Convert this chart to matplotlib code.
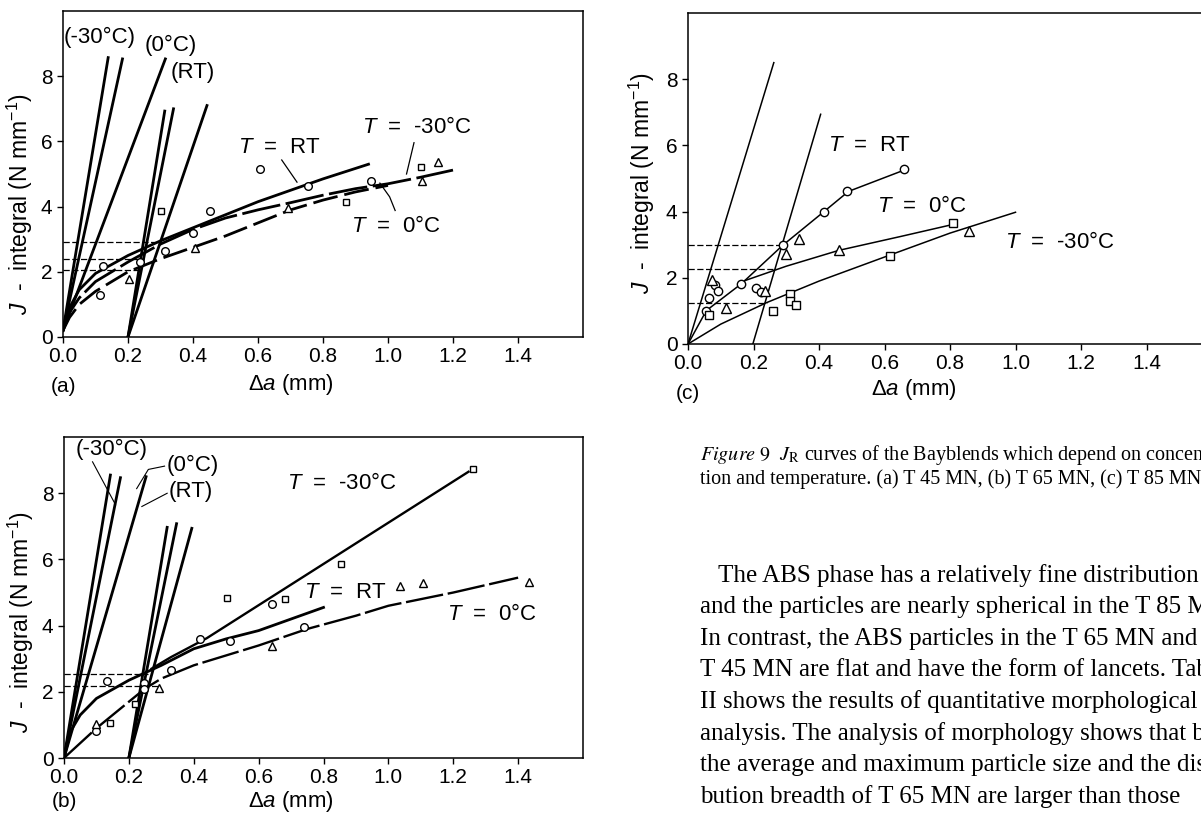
import numpy as np
import matplotlib
matplotlib.use("Agg")
import matplotlib.pyplot as plt

plt.rcParams['font.family'] = ['Liberation Sans', 'DejaVu Sans']
plt.rcParams['mathtext.fontset'] = 'custom'
plt.rcParams['mathtext.rm'] = 'Liberation Sans'
plt.rcParams['mathtext.it'] = 'Liberation Sans:italic'

# ---------------- panel (a) T 45 MN ----------------
a_blunt_tops_x = [0.139, 0.183, 0.315]
a_blunt_tops_y = [8.57, 8.53, 8.53]
a_offset_tops_x = [0.313, 0.340, 0.443]
a_offset_tops_y = [6.93, 7.00, 7.10]

a_rt_x = [0.0, 0.02, 0.05, 0.1, 0.2, 0.3, 0.4, 0.5, 0.6, 0.7, 0.8, 0.94]
a_rt_y = [0.2, 0.9, 1.45, 1.95, 2.5, 2.95, 3.35, 3.75, 4.15, 4.5, 4.85, 5.3]
a_m30_x = [0.0, 0.02, 0.05, 0.1, 0.2, 0.3, 0.4, 0.5, 0.6, 0.7, 0.8, 0.9, 1.0, 1.1, 1.2]
a_m30_y = [0.2, 0.75, 1.2, 1.7, 2.3, 2.85, 3.3, 3.65, 3.9, 4.12, 4.35, 4.55, 4.7, 4.9, 5.12]
a_0_x = [0.0, 0.02, 0.05, 0.1, 0.2, 0.3, 0.4, 0.5, 0.6, 0.7, 0.8, 0.9, 1.0]
a_0_y = [0.2, 0.6, 1.0, 1.4, 2.0, 2.4, 2.75, 3.1, 3.5, 3.9, 4.2, 4.45, 4.65]

a_jic_y = [2.92, 2.40, 2.05]
a_jic_x = [0.30, 0.25, 0.23]

a_circ_x = [0.122, 0.115, 0.236, 0.315, 0.40, 0.451, 0.605, 0.754, 0.947]
a_circ_y = [2.18, 1.30, 2.31, 2.65, 3.20, 3.86, 5.15, 4.62, 4.79]
a_sq_x = [0.302, 0.872, 1.10]
a_sq_y = [3.88, 4.13, 5.23]
a_tri_x = [0.203, 0.405, 0.693, 1.105, 1.155]
a_tri_y = [1.77, 2.72, 3.97, 4.80, 5.38]

# ---------------- panel (b) T 65 MN ----------------
b_blunt_tops_x = [0.143, 0.174, 0.253]
b_blunt_tops_y = [8.55, 8.47, 8.50]
b_offset_tops_x = [0.318, 0.347, 0.394]
b_offset_tops_y = [6.97, 7.08, 6.94]

b_rt_x = [0.0, 0.02, 0.05, 0.1, 0.2, 0.3, 0.4, 0.5, 0.6, 0.7, 0.8]
b_rt_y = [0.0, 0.8, 1.3, 1.8, 2.35, 2.8, 3.3, 3.6, 3.85, 4.2, 4.55]
b_0_x = [0.0, 0.1, 0.2, 0.25, 0.3, 0.4, 0.5, 0.6, 0.75, 0.9, 1.0, 1.2, 1.4]
b_0_y = [0.0, 0.9, 1.7, 2.1, 2.4, 2.8, 3.1, 3.4, 3.9, 4.3, 4.6, 5.0, 5.45]
b_m30_x = [0.27, 0.33, 0.44, 1.247]
b_m30_y = [2.7, 3.05, 3.62, 8.65]

b_jic_y = [2.55, 2.18]
b_jic_x = [0.26, 0.29]

b_circ_x = [0.098, 0.133, 0.247, 0.247, 0.329, 0.42, 0.512, 0.641, 0.741]
b_circ_y = [0.83, 2.34, 2.26, 2.10, 2.67, 3.60, 3.53, 4.66, 3.96]
b_sq_x = [0.141, 0.218, 0.504, 0.682, 0.853, 1.261]
b_sq_y = [1.06, 1.62, 4.82, 4.80, 5.86, 8.72]
b_tri_x = [0.098, 0.292, 0.641, 1.035, 1.106, 1.435]
b_tri_y = [1.04, 2.11, 3.37, 5.21, 5.29, 5.32]

# ---------------- panel (c) T 85 MN ----------------
c_blunt_x = [0.0, 0.262]
c_blunt_y = [0.0, 8.50]
c_offset_x = [0.198, 0.405]
c_offset_y = [0.0, 6.94]

c_rt_x = [0.0, 0.056, 0.163, 0.289, 0.414, 0.49, 0.659]
c_rt_y = [0.0, 1.01, 1.82, 2.98, 3.99, 4.61, 5.25]
c_0_x = [0.175, 0.30, 0.461, 0.65, 0.817]
c_0_y = [1.92, 2.35, 2.83, 3.25, 3.63]
c_m30_x = [0.0, 0.1, 0.24, 0.4, 0.62, 0.8, 1.0]
c_m30_y = [0.0, 0.6, 1.25, 1.9, 2.7, 3.35, 3.98]

c_jic_y = [2.98, 2.28, 1.25]
c_jic_x = [0.29, 0.27, 0.24]

c_circ_x = [0.056, 0.064, 0.082, 0.093, 0.163, 0.207, 0.222, 0.289, 0.414, 0.484, 0.659]
c_circ_y = [1.01, 1.39, 1.77, 1.59, 1.82, 1.69, 1.58, 2.98, 4.00, 4.62, 5.28]
c_sq_x = [0.064, 0.26, 0.312, 0.312, 0.331, 0.616, 0.808]
c_sq_y = [0.89, 1.01, 1.51, 1.31, 1.19, 2.65, 3.65]
c_tri_x = [0.072, 0.117, 0.236, 0.30, 0.338, 0.461, 0.858]
c_tri_y = [1.92, 1.08, 1.60, 2.72, 3.18, 2.83, 3.40]

x_ticks = [0.0, 0.2, 0.4, 0.6, 0.8, 1.0, 1.2, 1.4]
y_ticks = [0, 2, 4, 6, 8]

caption = [r"$\it{Figure\ 9}$  $\it{J}_{\rm R}$ curves of the Bayblends which depend on concen-",
           "tion and temperature. (a) T 45 MN, (b) T 65 MN, (c) T 85 MN."]
body = ["The ABS phase has a relatively fine distribution",
        "and the particles are nearly spherical in the T 85 MN.",
        "In contrast, the ABS particles in the T 65 MN and",
        "T 45 MN are flat and have the form of lancets. Table",
        "II shows the results of quantitative morphological",
        "analysis. The analysis of morphology shows that both",
        "the average and maximum particle size and the distri-",
        "bution breadth of T 65 MN are larger than those"]

W, H = 1201, 814
fig = plt.figure(figsize=(W / 100, H / 100), dpi=100)

LBL = 16  # in-plot label size


def box(l, t, r, b):
    return [l / W, 1 - b / H, (r - l) / W, (b - t) / H]


def setup(ax, ytop, letter, xl_x, yl_x, yl_y, below, xl_below):
    ax.set_xlim(0, 1.6)
    ax.set_ylim(0, ytop)
    ax.set_xticks(x_ticks)
    ax.set_xticklabels(["%.1f" % v for v in x_ticks])
    ax.set_yticks(y_ticks)
    ax.tick_params(direction='out', length=4.5, width=1, labelsize=15, pad=3)
    for s in ax.spines.values():
        s.set_linewidth(1.1)
    ax.annotate("(%s)" % letter, xy=(0, 0), xycoords=('data', 'axes fraction'),
                xytext=(0, -below), textcoords='offset points', ha='center', va='center', fontsize=15)
    ax.annotate("Δ$a$ (mm)", xy=(xl_x, 0), xycoords=('data', 'axes fraction'),
                xytext=(0, -xl_below), textcoords='offset points', ha='center', va='center', fontsize=16)
    ax.text(yl_x, yl_y, r"$J$  -  integral (N mm$^{-1}$)", transform=ax.transAxes,
            rotation=90, ha='center', va='center', fontsize=16.5)


def marks(ax, cx, cy, sx, sy, tx, ty, ms=5.5):
    kw = dict(ls='none', mfc='white', mec='black', mew=1.0, zorder=5)
    ax.plot(cx, cy, 'o', ms=ms, **kw)
    ax.plot(sx, sy, 's', ms=ms - 0.5, **kw)
    ax.plot(tx, ty, '^', ms=ms + 0.5, **kw)


def jic(ax, xs, ys):
    for x, y in zip(xs, ys):
        ax.plot([0, x], [y, y], color='black', lw=0.9, ls=(0, (5, 2)))


lw = 2.0
ax_a = fig.add_axes(box(63, 11, 583, 337))
setup(ax_a, 10, 'a', 0.70, -0.083, 0.408, 36, 34)
for x, y in zip(a_blunt_tops_x, a_blunt_tops_y):
    ax_a.plot([0, x], [0.2, y], color='black', lw=lw)
for x, y in zip(a_offset_tops_x, a_offset_tops_y):
    ax_a.plot([0.2, x], [0, y], color='black', lw=lw)
ax_a.plot(a_rt_x, a_rt_y, color='black', lw=lw)
ax_a.plot(a_m30_x, a_m30_y, color='black', lw=lw, ls=(0, (14, 2)))
ax_a.plot(a_0_x, a_0_y, color='black', lw=lw, ls=(0, (9, 2.5)))
jic(ax_a, a_jic_x, a_jic_y)
marks(ax_a, a_circ_x, a_circ_y, a_sq_x, a_sq_y, a_tri_x, a_tri_y)
ax_a.text(0.003, 9.2, "(-30°C)", fontsize=LBL, va='center')
ax_a.text(0.25, 8.95, "(0°C)", fontsize=LBL, va='center')
ax_a.text(0.33, 8.1, "(RT)", fontsize=LBL, va='center')
ax_a.text(0.54, 5.81, "$T$  =  RT", fontsize=LBL, va='center')
ax_a.plot([0.673, 0.72], [5.43, 4.75], color='black', lw=0.9)
ax_a.text(0.92, 6.42, "$T$  =  -30°C", fontsize=LBL, va='center')
ax_a.plot([1.08, 1.057], [5.96, 5.0], color='black', lw=0.9)
ax_a.text(0.886, 3.38, "$T$  =  0°C", fontsize=LBL, va='center')
ax_a.plot([0.975, 1.005, 1.022], [4.72, 4.3, 3.88], color='black', lw=0.9)

ax_b = fig.add_axes(box(64, 437, 583, 758))
setup(ax_b, 9.7, 'b', 0.70, -0.083, 0.423, 31.5, 31.5)
for x, y in zip(b_blunt_tops_x, b_blunt_tops_y):
    ax_b.plot([0, x], [0, y], color='black', lw=lw)
for x, y in zip(b_offset_tops_x, b_offset_tops_y):
    ax_b.plot([0.2, x], [0, y], color='black', lw=lw)
ax_b.plot(b_rt_x, b_rt_y, color='black', lw=lw)
ax_b.plot(b_0_x, b_0_y, color='black', lw=1.7, ls=(0, (16, 2)))
ax_b.plot(b_m30_x, b_m30_y, color='black', lw=1.7)
jic(ax_b, b_jic_x, b_jic_y)
marks(ax_b, b_circ_x, b_circ_y, b_sq_x, b_sq_y, b_tri_x, b_tri_y)
ax_b.text(0.035, 9.32, "(-30°C)", fontsize=LBL, va='center')
ax_b.plot([0.088, 0.159], [8.95, 7.65], color='black', lw=0.8)
ax_b.text(0.315, 8.85, "(0°C)", fontsize=LBL, va='center')
ax_b.plot([0.31, 0.26, 0.224], [8.82, 8.72, 8.14], color='black', lw=0.8)
ax_b.text(0.324, 8.06, "(RT)", fontsize=LBL, va='center')
ax_b.plot([0.318, 0.24], [8.0, 7.6], color='black', lw=0.8)
ax_b.text(0.688, 8.3, "$T$  =  -30°C", fontsize=LBL, va='center')
ax_b.text(0.741, 5.0, "$T$  =  RT", fontsize=LBL, va='center')
ax_b.text(1.18, 4.33, "$T$  =  0°C", fontsize=LBL, va='center')

ax_c = fig.add_axes(box(688, 13, 1212, 344))
setup(ax_c, 10, 'c', 0.69, -0.088, 0.487, 36, 33)
ax_c.plot(c_blunt_x, c_blunt_y, color='black', lw=1.1)
ax_c.plot(c_offset_x, c_offset_y, color='black', lw=1.1)
ax_c.plot(c_rt_x, c_rt_y, color='black', lw=1.1)
ax_c.plot(c_0_x, c_0_y, color='black', lw=1.1)
ax_c.plot(c_m30_x, c_m30_y, color='black', lw=1.1)
jic(ax_c, c_jic_x, c_jic_y)
marks(ax_c, c_circ_x, c_circ_y, c_sq_x, c_sq_y, c_tri_x, c_tri_y, ms=6)
ax_c.text(0.429, 6.0, "$T$  =  RT", fontsize=LBL, va='center')
ax_c.text(0.578, 4.14, "$T$  =  0°C", fontsize=LBL, va='center')
ax_c.text(0.968, 3.08, "$T$  =  -30°C", fontsize=LBL, va='center')

# caption and running text
serif = ['Liberation Serif', 'DejaVu Serif']
for i, line in enumerate(caption):
    fig.text(700 / W, 1 - (455 + 24 * i) / H, line, family=serif, fontsize=14.5,
             va='center', ha='left', math_fontfamily='stix')
for i, line in enumerate(body):
    x0 = 718 if i == 0 else 700
    fig.text(x0 / W, 1 - (576 + 31.5 * i) / H, line, family=serif, fontsize=18,
             va='center', ha='left')

fig.savefig("out.png", dpi=100)
